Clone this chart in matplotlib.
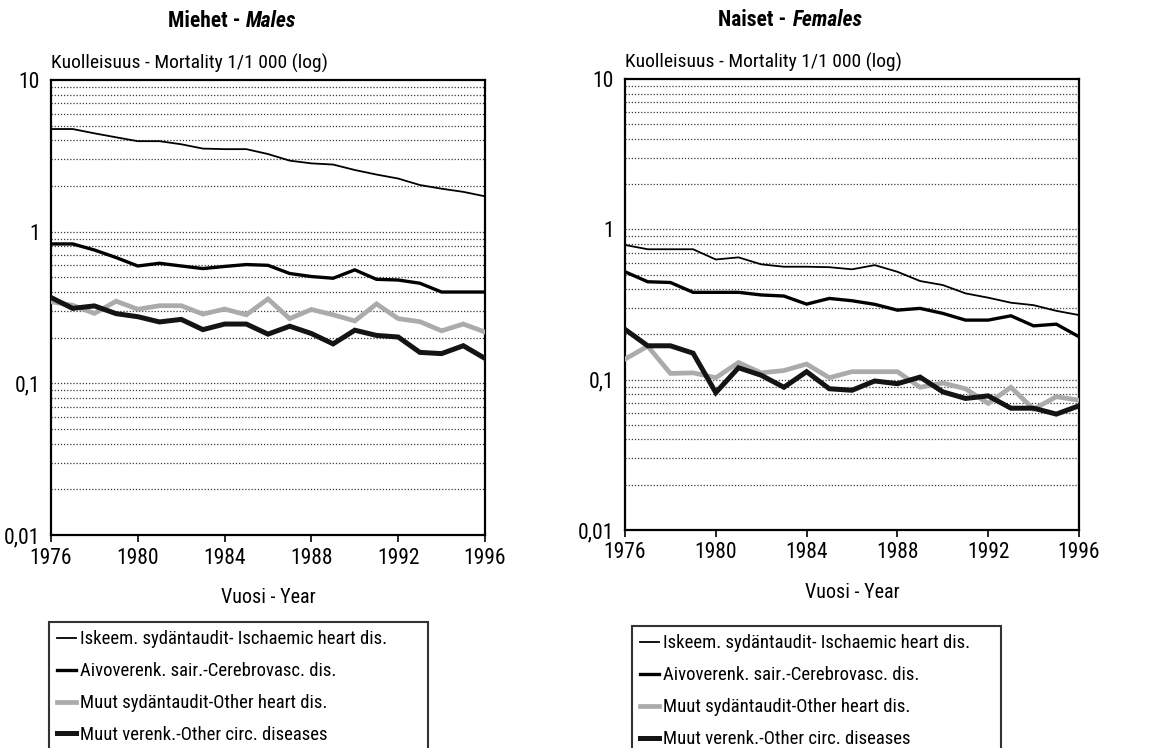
import matplotlib
matplotlib.use("Agg")
import matplotlib.pyplot as plt
from matplotlib.ticker import FixedLocator, NullLocator, NullFormatter

plt.rcParams['font.family'] = ['Roboto Condensed', 'DejaVu Sans']

years = list(range(1976, 1997))
xticks = [1976, 1980, 1984, 1988, 1992, 1996]
yticks = [0.01, 0.1, 1, 10]
ytick_labels = ["0,01", "0,1", "1", "10"]

series_labels = [
    "Iskeem. sydäntaudit- Ischaemic heart dis.",
    "Aivoverenk. sair.-Cerebrovasc. dis.",
    "Muut sydäntaudit-Other heart dis.",
    "Muut verenk.-Other circ. diseases",
]

males_ischaemic = [4.75, 4.75, 4.45, 4.19, 3.95, 3.95, 3.77, 3.53, 3.5, 3.5, 3.25,
                   2.94, 2.82, 2.77, 2.55, 2.38, 2.24, 2.03, 1.92, 1.83, 1.71]
males_cerebro = [0.83, 0.83, 0.757, 0.675, 0.594, 0.619, 0.594, 0.571, 0.59, 0.607, 0.60,
                 0.53, 0.506, 0.493, 0.56, 0.485, 0.48, 0.457, 0.40, 0.40, 0.40]
males_other_heart = [0.345, 0.327, 0.289, 0.348, 0.308, 0.325, 0.325, 0.286, 0.309, 0.283, 0.36,
                     0.267, 0.307, 0.283, 0.258, 0.334, 0.267, 0.255, 0.222, 0.246, 0.218]
males_other_circ = [0.368, 0.312, 0.324, 0.288, 0.275, 0.254, 0.264, 0.226, 0.246, 0.246, 0.211,
                    0.238, 0.213, 0.182, 0.224, 0.207, 0.202, 0.16, 0.157, 0.177, 0.146]

females_ischaemic = [0.787, 0.737, 0.737, 0.737, 0.63, 0.651, 0.585, 0.564, 0.564, 0.56, 0.542,
                     0.578, 0.522, 0.453, 0.426, 0.375, 0.351, 0.325, 0.313, 0.287, 0.269]
females_cerebro = [0.522, 0.448, 0.443, 0.381, 0.381, 0.381, 0.366, 0.36, 0.318, 0.347, 0.335,
                   0.317, 0.29, 0.298, 0.276, 0.249, 0.249, 0.266, 0.228, 0.234, 0.193]
females_other_heart = [0.137, 0.167, 0.11, 0.111, 0.103, 0.13, 0.111, 0.115, 0.127, 0.103, 0.113,
                       0.113, 0.113, 0.089, 0.095, 0.087, 0.0695, 0.089, 0.0636, 0.077, 0.073]
females_other_circ = [0.216, 0.168, 0.168, 0.15, 0.082, 0.12, 0.107, 0.089, 0.113, 0.087, 0.085,
                      0.098, 0.094, 0.104, 0.083, 0.075, 0.078, 0.0646, 0.0646, 0.059, 0.067]

styles = [
    dict(color="black", lw=1.3),
    dict(color="black", lw=2.4),
    dict(color="#ababab", lw=3.4),
    dict(color="#141414", lw=3.6),
]

W, H = 1160, 748
fig = plt.figure(figsize=(W / 100, H / 100), dpi=100)


def px_axes(x0, y0, x1, y1):
    return fig.add_axes([x0 / W, 1 - y1 / H, (x1 - x0) / W, (y1 - y0) / H])


def setup(ax, data, title_a, title_b, tx, ty, legend_box):
    grid_vals = []
    for dec in [0.01, 0.1, 1]:
        for m in range(1, 10):
            v = dec * m
            if v > 0.011:
                grid_vals.append(v)
    for v in grid_vals:
        ax.axhline(v, color="#3a3a3a", lw=0.9, ls=(0, (1, 1.5)), zorder=1)
    handles = []
    for vals, st, lab in zip(data, styles, series_labels):
        h, = ax.plot(years, vals, solid_joinstyle="miter", zorder=3, label=lab, **st)
        handles.append(h)
    ax.set_yscale("log")
    ax.set_ylim(0.01, 10)
    ax.set_xlim(1976, 1996)
    ax.yaxis.set_major_locator(FixedLocator(yticks))
    ax.set_yticklabels(ytick_labels)
    ax.yaxis.set_minor_locator(NullLocator())
    ax.yaxis.set_minor_formatter(NullFormatter())
    ax.set_xticks(xticks)
    ax.set_xticklabels([str(x) for x in xticks])
    ax.tick_params(axis="y", length=0, pad=8, labelsize=15.5)
    ax.tick_params(axis="x", length=5, width=1.2, direction="out", pad=4, labelsize=15.5)
    for s in ax.spines.values():
        s.set_linewidth(1.6)
    ax.annotate("Kuolleisuus - Mortality 1/1 000 (log)", xy=(0, 1), xycoords="axes fraction",
                xytext=(0, 5), textcoords="offset points", ha="left", va="bottom", fontsize=14)
    ax.set_xlabel("Vuosi - Year", fontsize=14.5, labelpad=14)
    fig.text(tx[0] / W, 1 - ty / H, title_a, ha="right", va="center",
             fontsize=15.5, fontweight="bold")
    fig.text(tx[1] / W, 1 - ty / H, title_b, ha="left", va="center",
             fontsize=15.5, fontweight="bold", style="italic")
    x0, ytop, w = legend_box
    hgt = 150
    leg = fig.legend(handles=handles, loc="upper left",
                     bbox_to_anchor=(x0 / W, 1 - (ytop + hgt) / H, w / W, hgt / H),
                     mode="expand", fontsize=13.5, frameon=True, fancybox=False,
                     edgecolor="black", handlelength=1.0, handletextpad=0.2,
                     labelspacing=0.74, borderpad=0.45, borderaxespad=0)
    leg.get_frame().set_linewidth(1.5)
    return ax


ax1 = px_axes(51, 80, 485, 535)
setup(ax1, [males_ischaemic, males_cerebro, males_other_heart, males_other_circ],
      "Miehet -", "Males", (240, 246), 21, (49, 622, 379))

ax2 = px_axes(625, 79, 1079, 530)
setup(ax2, [females_ischaemic, females_cerebro, females_other_heart, females_other_circ],
      "Naiset -", "Females", (786, 793), 20, (632, 626, 369))

fig.savefig("out.png", dpi=100)
